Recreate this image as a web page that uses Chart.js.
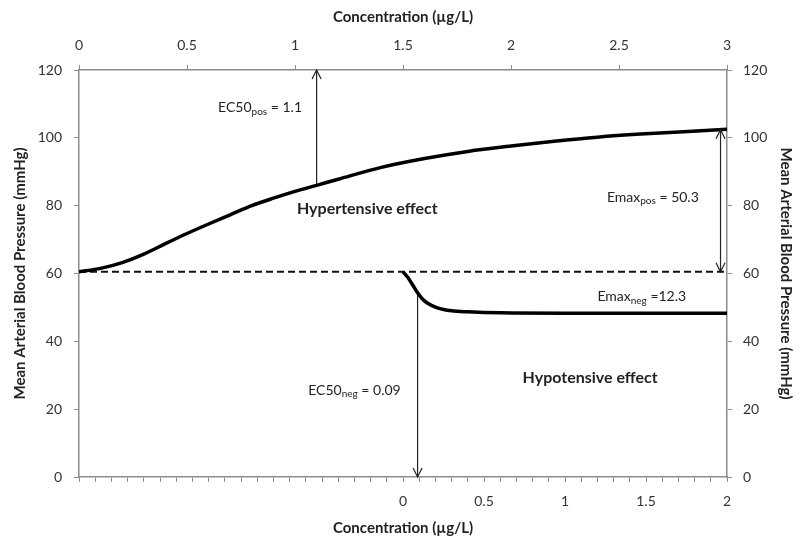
<!DOCTYPE html>
<html lang="en">
<head>
<meta charset="utf-8" />
<title>Mean Arterial Blood Pressure vs Concentration</title>
<script src="https://cdn.jsdelivr.net/npm/chart.js@4.4.0/dist/chart.umd.min.js"></script>
<style>
	html, body { margin: 0; padding: 0; background: #fff; }
</style>
</head>
<body>
<canvas id="myChart" width="802" height="540"></canvas>
<script>
// hypertensive curve, read against the top axis (µg/L)
const posConc = [0, 0.1, 0.2, 0.3, 0.4, 0.5, 0.6, 0.7, 0.8, 0.9, 1.0, 1.1, 1.2, 1.4, 1.6, 1.8, 2.0, 2.2, 2.4, 2.6, 2.8, 3.0];
const posMap  = [60.5, 61.5, 63.2, 65.7, 68.8, 71.8, 74.6, 77.3, 80.0, 82.2, 84.2, 86.0, 87.8, 91.3, 93.9, 96.0, 97.6, 99.0, 100.2, 101.1, 101.8, 102.5];

// hypotensive curve, read against the bottom axis (µg/L)
const negConc = [0, 0.03, 0.06, 0.09, 0.12, 0.15, 0.2, 0.25, 0.3, 0.4, 0.6, 1.0, 1.5, 2.0];
const negMap  = [60.5, 58.8, 56.6, 54.3, 52.5, 51.3, 50.1, 49.4, 49.0, 48.7, 48.4, 48.3, 48.3, 48.3];

// baseline and effect markers
const baseline = 60.5;
const ec50Pos = 1.1, ec50PosMap = 86.0;
const emaxPosConc = 2.97, emaxPosTop = 102.4;
const ec50Neg = 0.09, ec50NegMap = 54.3;

const topTicks = [0, 0.5, 1, 1.5, 2, 2.5, 3];
const yTicks = [0, 20, 40, 60, 80, 100, 120];

const pts = (xs, ys) => xs.map((x, i) => ({x: x, y: ys[i]}));

// text notes, placed in data units: [text, subscript?]
const notes = [
	{xAxis: 'x', x: 0.644, y: 109, size: 14, parts: [['EC50', 0], ['pos', 1], [' = 1.1', 0]]},
	{xAxis: 'x', x: 2.444, y: 82.5, size: 14, parts: [['Emax', 0], ['pos', 1], [' = 50.3', 0]]},
	{xAxis: 'x2', x: 1.2, y: 53.1, size: 14, parts: [['Emax', 0], ['neg', 1], [' =12.3', 0]]},
	{xAxis: 'x2', x: -0.585, y: 25.6, size: 14, parts: [['EC50', 0], ['neg', 1], [' = 0.09', 0]]},
	{xAxis: 'x', x: 1.009, y: 79.0, size: 16, bold: true, parts: [['Hypertensive effect', 0]]},
	{xAxis: 'x2', x: 0.738, y: 29.2, size: 16, bold: true, parts: [['Hypotensive effect', 0]]}
];

// arrows: [dataset index, heads at start / end]
const arrowHeads = [
	{ds: 3, start: false, end: true},
	{ds: 4, start: true, end: true},
	{ds: 5, start: false, end: true}
];

const FONT = 'Lato, "Open Sans", sans-serif';
const AXIS = '#8c8c8c';

function head(ctx, x, y, dir) {
	// open V arrow head pointing up (dir=-1) or down (dir=1)
	ctx.beginPath();
	ctx.moveTo(x - 4.5, y - dir * 9);
	ctx.lineTo(x, y);
	ctx.lineTo(x + 4.5, y - dir * 9);
	ctx.stroke();
}

const notesPlugin = {
	id: 'notes',
	afterDatasetsDraw(chart) {
		const ctx = chart.ctx;
		const yS = chart.scales.y;
		ctx.save();
		ctx.strokeStyle = '#222';
		ctx.lineWidth = 1.2;
		arrowHeads.forEach(a => {
			const d = chart.data.datasets[a.ds];
			const xS = chart.scales[d.xAxisID];
			const p0 = d.data[0], p1 = d.data[d.data.length - 1];
			const x0 = xS.getPixelForValue(p0.x), y0 = yS.getPixelForValue(p0.y);
			const x1 = xS.getPixelForValue(p1.x), y1 = yS.getPixelForValue(p1.y);
			if (a.start) head(ctx, x0, y0, y0 < y1 ? -1 : 1);
			if (a.end) head(ctx, x1, y1, y1 < y0 ? -1 : 1);
		});
		ctx.fillStyle = '#222';
		ctx.textBaseline = 'middle';
		ctx.textAlign = 'left';
		notes.forEach(n => {
			let px = chart.scales[n.xAxis].getPixelForValue(n.x);
			const py = yS.getPixelForValue(n.y);
			n.parts.forEach(([t, sub]) => {
				const sz = sub ? Math.round(n.size * 0.7) : n.size;
				ctx.font = (n.bold ? 'bold ' : '') + sz + 'px ' + FONT;
				ctx.fillText(t, px, sub ? py + 4 : py);
				px += ctx.measureText(t).width;
			});
		});
		ctx.restore();
	}
};

const tickFont = {family: FONT, size: 14};
const titleFont = {family: FONT, size: 15, weight: 'bold'};

function axisGrid() {
	return {drawOnChartArea: false, drawTicks: true, tickLength: 5, color: AXIS, lineWidth: 1};
}

const ctx = document.getElementById('myChart').getContext('2d');
const myChart = new Chart(ctx, {
	type: 'scatter',
	data: {
		datasets: [
			{
				label: 'Hypertensive', xAxisID: 'x', yAxisID: 'y',
				data: pts(posConc, posMap), showLine: true,
				borderColor: '#000', borderWidth: 3.5, pointRadius: 0,
				cubicInterpolationMode: 'monotone'
			},
			{
				label: 'Hypotensive', xAxisID: 'x2', yAxisID: 'y',
				data: pts(negConc, negMap), showLine: true,
				borderColor: '#000', borderWidth: 3.5, pointRadius: 0,
				cubicInterpolationMode: 'monotone'
			},
			{
				label: 'Baseline', xAxisID: 'x', yAxisID: 'y',
				data: [{x: 0, y: baseline}, {x: 3, y: baseline}], showLine: true,
				borderColor: '#111', borderWidth: 2, borderDash: [7, 4], pointRadius: 0
			},
			{
				label: 'EC50pos', xAxisID: 'x', yAxisID: 'y',
				data: [{x: ec50Pos, y: ec50PosMap}, {x: ec50Pos, y: 120}], showLine: true,
				borderColor: '#222', borderWidth: 1.2, pointRadius: 0, clip: false
			},
			{
				label: 'Emaxpos', xAxisID: 'x', yAxisID: 'y',
				data: [{x: emaxPosConc, y: emaxPosTop}, {x: emaxPosConc, y: baseline}], showLine: true,
				borderColor: '#222', borderWidth: 1.2, pointRadius: 0, clip: false
			},
			{
				label: 'EC50neg', xAxisID: 'x2', yAxisID: 'y',
				data: [{x: ec50Neg, y: ec50NegMap}, {x: ec50Neg, y: 0}], showLine: true,
				borderColor: '#222', borderWidth: 1.2, pointRadius: 0, clip: false
			}
		]
	},
	options: {
		responsive: false,
		animation: false,
		layout: {padding: 0},
		plugins: {legend: {display: false}, tooltip: {enabled: false}},
		scales: {
			x: {
				type: 'linear', position: 'top', min: 0, max: 3,
				afterBuildTicks: s => { s.ticks = topTicks.map(v => ({value: v})); },
				afterFit: s => { s.height = 70; },
				ticks: {font: tickFont, color: '#333', padding: 11, maxRotation: 0, autoSkip: false,
					callback: v => String(v)},
				grid: axisGrid(),
				border: {display: true, color: AXIS, width: 1.5},
				title: {display: true, text: 'Concentration (µg/L)', font: titleFont, color: '#222', padding: {top: 8, bottom: 0}}
			},
			x2: {
				type: 'linear', position: 'bottom', min: -2, max: 2,
				ticks: {font: tickFont, color: '#333', padding: 11, maxRotation: 0, autoSkip: false, stepSize: 0.1,
					callback: v => {
						if (v < -1e-9) return '';
						if (Math.abs(v * 2 - Math.round(v * 2)) > 1e-6) return '';
						return String(parseFloat(v.toFixed(1)));
					}},
				afterFit: s => { s.height = 63; },
				grid: axisGrid(),
				border: {display: true, color: AXIS, width: 1.5},
				title: {display: true, text: 'Concentration (µg/L)', font: titleFont, color: '#222', padding: {top: 0, bottom: 3}}
			},
			y: {
				type: 'linear', position: 'left', min: 0, max: 120,
				afterBuildTicks: s => { s.ticks = yTicks.map(v => ({value: v})); },
				afterFit: s => { s.width = 79; },
				ticks: {font: tickFont, color: '#333', padding: 12},
				grid: axisGrid(),
				border: {display: true, color: AXIS, width: 1.5},
				title: {display: true, text: 'Mean Arterial Blood Pressure (mmHg)', font: titleFont, color: '#222', padding: {top: 11, bottom: 0}}
			},
			y2: {
				type: 'linear', position: 'right', min: 0, max: 120,
				afterBuildTicks: s => { s.ticks = yTicks.map(v => ({value: v})); },
				afterFit: s => { s.width = 75; },
				ticks: {font: tickFont, color: '#333', padding: 11},
				grid: axisGrid(),
				border: {display: true, color: AXIS, width: 1.5},
				title: {display: true, text: 'Mean Arterial Blood Pressure (mmHg)', font: titleFont, color: '#222', padding: {top: 7, bottom: 0}}
			}
		}
	},
	plugins: [notesPlugin]
});
</script>
</body>
</html>
